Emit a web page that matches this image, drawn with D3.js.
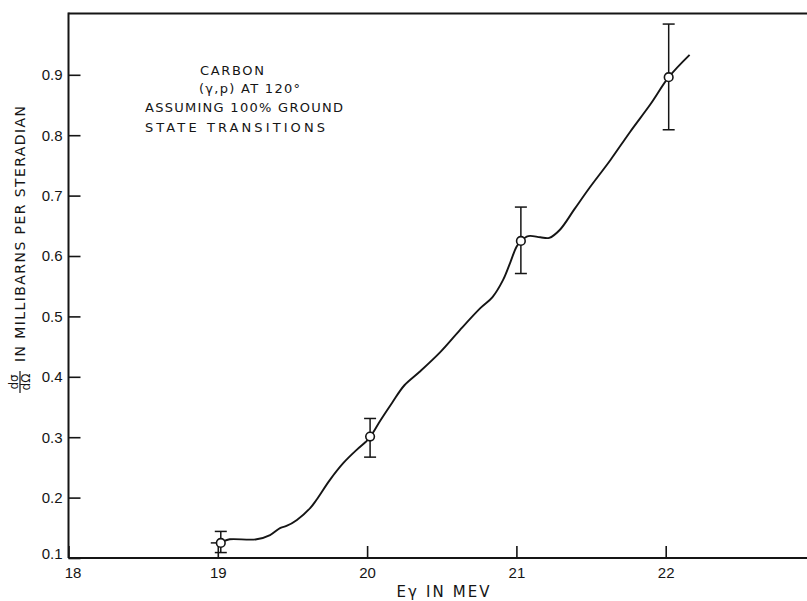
<!DOCTYPE html>
<html>
<head>
<meta charset="utf-8">
<script src="https://cdn.jsdelivr.net/npm/d3@7"></script>
<style>
  body { margin: 0; background: #fff; }
  svg { display: block; font-family: "DejaVu Sans", "Liberation Sans", sans-serif; }
</style>
</head>
<body>
<svg width="807" height="601"></svg>
<script>
// measured points (E in MeV, cross section in mb/sr)
var energies = [19.02, 20.02, 21.03, 22.02];
var sigma = [0.125, 0.301, 0.625, 0.896];
var errLow = [0.109, 0.267, 0.571, 0.809];
var errHigh = [0.144, 0.331, 0.681, 0.984];

// hand drawn curve through the points
var curveE = [19.04, 19.08, 19.26, 19.35, 19.42, 19.46, 19.53, 19.62, 19.66, 19.75, 19.84, 19.93, 19.99, 20.02,
  20.09, 20.17, 20.25, 20.35, 20.49, 20.62, 20.76, 20.84, 20.91, 20.96, 21.0, 21.03, 21.08, 21.16, 21.22,
  21.29, 21.39, 21.49, 21.63, 21.76, 21.9, 22.02, 22.16];
var curveS = [0.128, 0.131, 0.131, 0.138, 0.150, 0.153, 0.163, 0.183, 0.196, 0.229, 0.257, 0.279, 0.292, 0.300,
  0.328, 0.358, 0.386, 0.408, 0.441, 0.477, 0.514, 0.532, 0.560, 0.590, 0.615, 0.625, 0.633, 0.631, 0.630,
  0.643, 0.678, 0.713, 0.759, 0.805, 0.852, 0.896, 0.933];

var xTicks = [18, 19, 20, 21, 22];
var yTicks = [0.1, 0.2, 0.3, 0.4, 0.5, 0.6, 0.7, 0.8, 0.9];
var notes = ["CARBON", "(\u03b3,p) AT 120\u00b0", "ASSUMING 100% GROUND", "STATE  TRANSITIONS"];

window.onload = function() {
  var svg = d3.select("svg");
  var ink = "#151515";

  var x = d3.scaleLinear().domain([18, 23]).range([68.5, 815]);
  var y = d3.scaleLinear().domain([0.1, 1.0]).range([558, 14.4]);

  //axes
  var xAxis = svg.append("g")
    .attr("transform", "translate(0,558)")
    .call(d3.axisBottom(x).tickValues(xTicks).tickFormat(d3.format("d"))
      .tickSizeInner(-12).tickSizeOuter(0).tickPadding(9));
  var yAxis = svg.append("g")
    .attr("transform", "translate(68.5,0)")
    .call(d3.axisLeft(y).tickValues(yTicks).tickFormat(d3.format(".1f"))
      .tickSizeInner(-12).tickSizeOuter(0).tickPadding(6));

  [xAxis, yAxis].forEach(function(a) {
    a.select(".domain").attr("stroke", ink).attr("stroke-width", 2);
    a.selectAll(".tick line").attr("stroke", ink).attr("stroke-width", 1.6);
    a.selectAll(".tick text").attr("fill", ink).style("font-size", "15px");
  });
  xAxis.select(".domain").attr("d", "M" + x(18) + ",0H807");
  xAxis.selectAll(".tick").filter(function(d) { return d === 18; }).select("text").attr("dx", 4);
  yAxis.selectAll(".tick").filter(function(d) { return d === 0.1; }).select("text").attr("dy", "0.05em");

  // top frame line
  svg.append("line")
    .attr("x1", x(18)).attr("x2", 807)
    .attr("y1", y(1.0) - 1).attr("y2", y(1.0) - 1)
    .attr("stroke", ink).attr("stroke-width", 2);
  yAxis.select(".domain").attr("d", "M0," + (y(1.0) - 2) + "V558");

  // curve
  var pts = curveE.map(function(e, i) { return [e, curveS[i]]; });
  var line = d3.line()
    .x(function(d) { return x(d[0]); })
    .y(function(d) { return y(d[1]); })
    .curve(d3.curveCatmullRom.alpha(0.5));
  svg.append("path")
    .datum(pts)
    .attr("d", line)
    .attr("fill", "none")
    .attr("stroke", ink)
    .attr("stroke-width", 1.9);

  // error bars
  var bars = svg.append("g").attr("stroke", ink).attr("stroke-width", 1.5);
  energies.forEach(function(e, i) {
    var cx = x(e);
    bars.append("line").attr("x1", cx).attr("x2", cx).attr("y1", y(errLow[i])).attr("y2", y(errHigh[i]));
    bars.append("line").attr("x1", cx - 6).attr("x2", cx + 6).attr("y1", y(errLow[i])).attr("y2", y(errLow[i]));
    bars.append("line").attr("x1", cx - 6).attr("x2", cx + 6).attr("y1", y(errHigh[i])).attr("y2", y(errHigh[i]));
  });
  // little stub left of the first point
  bars.append("line")
    .attr("x1", x(energies[0]) - 10).attr("x2", x(energies[0]) - 4)
    .attr("y1", y(sigma[0])).attr("y2", y(sigma[0]));

  svg.append("g").selectAll("circle")
    .data(energies)
    .enter().append("circle")
      .attr("cx", function(d) { return x(d); })
      .attr("cy", function(d, i) { return y(sigma[i]); })
      .attr("r", 4.3)
      .attr("fill", "#fff")
      .attr("stroke", ink)
      .attr("stroke-width", 1.6);

  // annotation
  var noteX = [200, 199, 145, 145];
  var noteY = [75, 93, 112, 132];
  var noteW = [64, 101, 198, 180];
  svg.append("g").selectAll("text")
    .data(notes)
    .enter().append("text")
      .attr("x", function(d, i) { return noteX[i]; })
      .attr("y", function(d, i) { return noteY[i]; })
      .attr("textLength", function(d, i) { return noteW[i]; })
      .attr("lengthAdjust", "spacing")
      .attr("fill", ink)
      .style("font-size", "13px")
      .text(function(d) { return d; });

  // axis titles
  svg.append("text")
    .attr("x", 443).attr("y", 597)
    .attr("text-anchor", "middle")
    .attr("textLength", 93).attr("lengthAdjust", "spacing")
    .attr("fill", ink)
    .style("font-size", "15px")
    .text("E\u03b3 IN MEV");

  var yt = svg.append("g").attr("transform", "rotate(-90)").attr("fill", ink);
  yt.append("text")
    .attr("x", -362).attr("y", 25)
    .attr("textLength", 256).attr("lengthAdjust", "spacing")
    .style("font-size", "14px")
    .text("IN MILLIBARNS PER STERADIAN");
  yt.append("text")
    .attr("x", -382).attr("y", 18)
    .attr("text-anchor", "middle")
    .style("font-size", "12px")
    .text("d\u03c3");
  yt.append("line")
    .attr("x1", -393).attr("x2", -371)
    .attr("y1", 20).attr("y2", 20)
    .attr("stroke", ink).attr("stroke-width", 1.2);
  yt.append("text")
    .attr("x", -382).attr("y", 30)
    .attr("text-anchor", "middle")
    .style("font-size", "12px")
    .text("d\u03a9");
};
</script>
</body>
</html>
